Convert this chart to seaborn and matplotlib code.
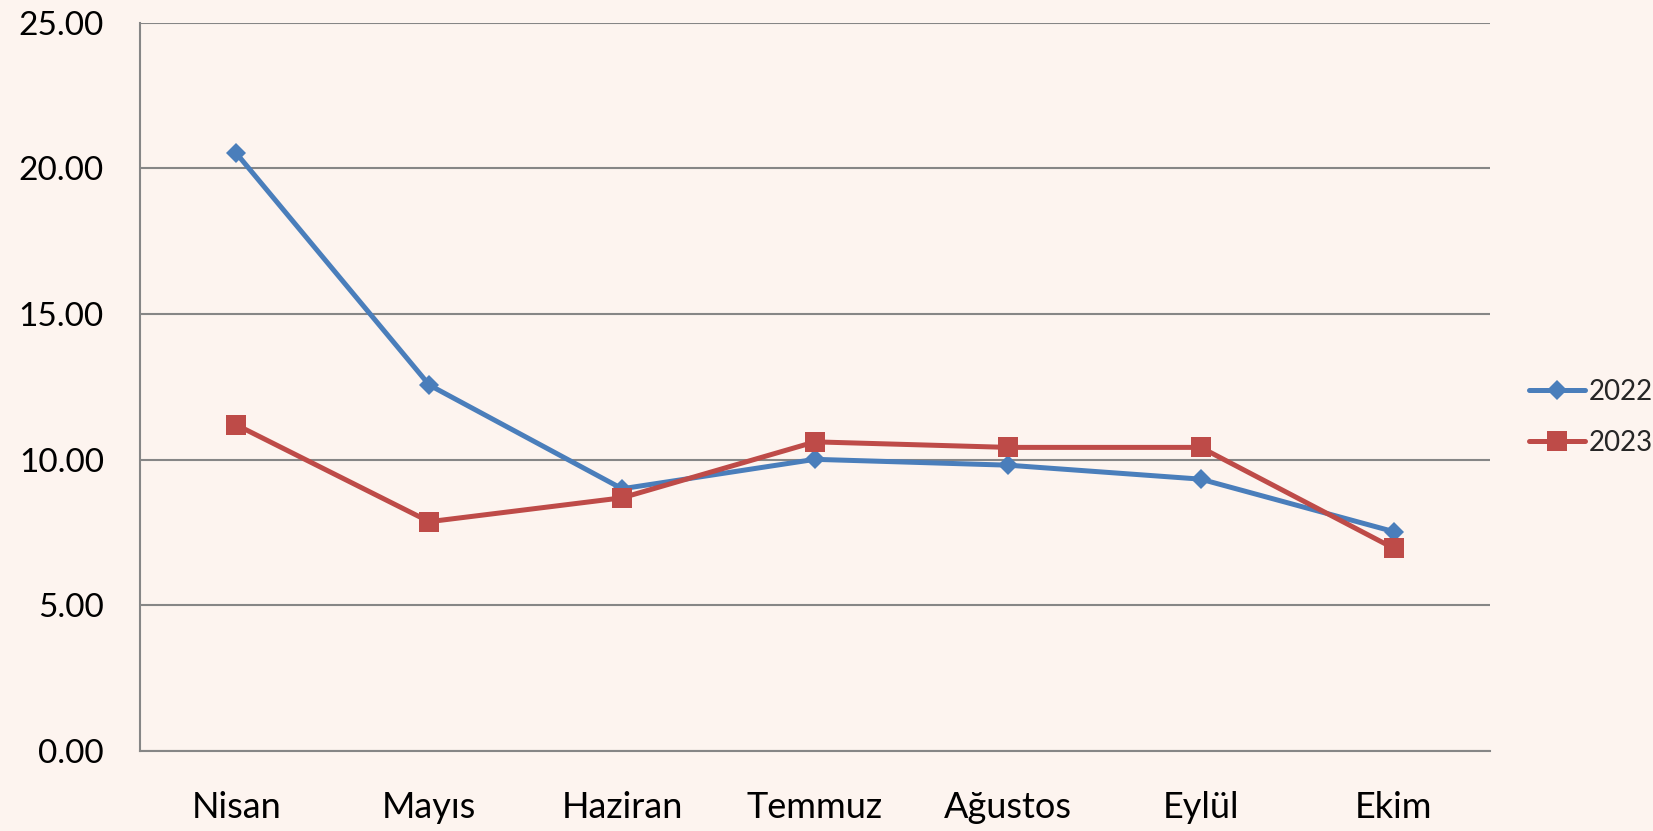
import pandas as pd
import seaborn as sns
import matplotlib.pyplot as plt

months = ["Nisan", "Mayıs", "Haziran", "Temmuz", "Ağustos", "Eylül", "Ekim"]
values_2022 = [20.51, 12.56, 9.00, 10.01, 9.81, 9.33, 7.53]
values_2023 = [11.19, 7.87, 8.69, 10.61, 10.42, 10.42, 6.96]
years = ["2022", "2023"]
y_ticks = [0, 5, 10, 15, 20, 25]

bg = "#FDF4EF"
grid_col = "#868686"
colors = {"2022": "#4A7EBB", "2023": "#BE4B48"}
markers = {"2022": "D", "2023": "s"}

df = pd.concat([
    pd.DataFrame({"Ay": months, "Değer": values_2022, "Yıl": "2022"}),
    pd.DataFrame({"Ay": months, "Değer": values_2023, "Yıl": "2023"}),
])

sns.set_theme(style="white")
plt.rcParams["font.family"] = ["Lato", "DejaVu Sans"]

fig = plt.figure(figsize=(16.53, 8.31), dpi=100, facecolor=bg)
ax = fig.add_axes([0.0847, 0.0963, 0.8167, 0.8765])
ax.set_facecolor(bg)

for year in years:
    sub = df[df["Yıl"] == year]
    sns.lineplot(data=sub, x="Ay", y="Değer", ax=ax, color=colors[year],
                 linewidth=3.6, marker=markers[year],
                 markersize=10 if year == "2022" else 14,
                 markeredgewidth=0, label=year, sort=False)

ax.set_xlim(-0.5, len(months) - 0.5)
ax.set_ylim(0, 25)
ax.set_yticks(y_ticks)
ax.set_yticklabels([f"{v:.2f}" for v in y_ticks])
ax.yaxis.grid(True, color=grid_col, linewidth=1.5)
ax.set_axisbelow(True)
ax.set_xlabel("")
ax.set_ylabel("")
ax.tick_params(axis="y", length=0, pad=26, labelsize=24, colors="black")
ax.tick_params(axis="x", length=0, pad=29, labelsize=26, colors="black")

for side in ["top", "right"]:
    ax.spines[side].set_visible(False)
for side in ["left", "bottom"]:
    ax.spines[side].set_color(grid_col)
    ax.spines[side].set_linewidth(1.5)

handles, labels = ax.get_legend_handles_labels()
ax.get_legend().remove()
fig.legend(handles, labels, loc="center left", bbox_to_anchor=(0.925, 0.498),
           frameon=False, fontsize=20, handlelength=2.0, handletextpad=0.15,
           labelspacing=0.9, borderpad=0, borderaxespad=0)

plt.savefig("out.png", dpi=100, facecolor=bg)
